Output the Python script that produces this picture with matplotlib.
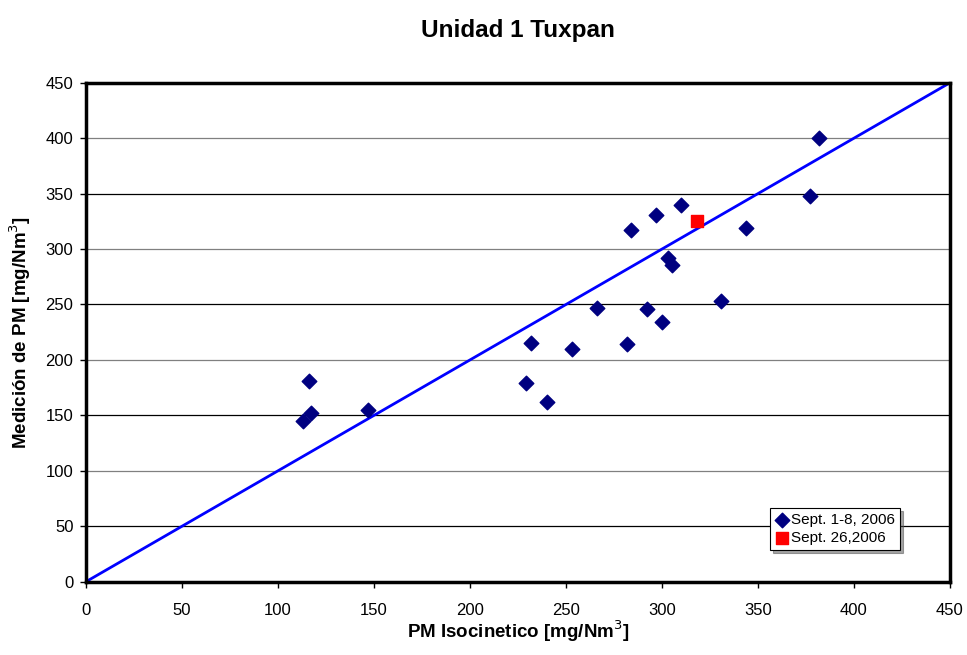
import matplotlib
matplotlib.use("Agg")
import matplotlib.pyplot as plt

plt.rcParams['font.family'] = ['Liberation Sans', 'DejaVu Sans']

# Sept. 1-8, 2006 measurements
iso_sept1 = [113, 116, 117, 147, 229, 232, 240, 253, 266, 282, 284, 292, 297,
             300, 303, 305, 310, 331, 344, 377, 382]
pm_sept1 = [145, 181, 152, 155, 179, 215, 162, 210, 247, 214, 317, 246, 331,
            234, 292, 286, 340, 253, 319, 348, 400]

# Sept. 26, 2006
iso_sept26 = [318]
pm_sept26 = [325]

# 1:1 reference line
ref_line = [0, 450]

fig = plt.figure(figsize=(9.67, 6.55), dpi=100)
ax = fig.add_axes([0.0889, 0.1119, 0.8935, 0.7618])

# gridlines (the original shows alternating dark / grey lines)
for v in range(50, 450, 50):
    c = '#808080' if v % 100 == 0 else 'black'
    ax.axhline(v, color=c, lw=0.9, zorder=0)

ax.plot(ref_line, ref_line, color='#0000ff', lw=2, zorder=2)
ax.scatter(iso_sept1, pm_sept1, marker='D', s=55, color='#000080',
           label='Sept. 1-8, 2006', zorder=3)
ax.scatter(iso_sept26, pm_sept26, marker='s', s=80, color='#ff0000',
           label='Sept. 26,2006', zorder=3)

ax.set_xlim(0, 450)
ax.set_ylim(0, 450)
ax.set_xticks(range(0, 451, 50))
ax.set_yticks(range(0, 451, 50))
ax.tick_params(labelsize=12, length=4, width=1, direction='out')
ax.tick_params(axis='x', pad=11)
ax.tick_params(axis='y', pad=5)
for s in ax.spines.values():
    s.set_linewidth(2.5)

ax.set_title('Unidad 1 Tuxpan', fontsize=17.5, fontweight='bold', pad=33)
ax.set_xlabel('PM Isocinetico [mg/Nm$^3$]', fontsize=13.5, fontweight='bold', labelpad=1)
ax.set_ylabel('Medición de PM [mg/Nm$^3$]', fontsize=13.5, fontweight='bold', labelpad=9)

leg = ax.legend(loc='lower right', bbox_to_anchor=(0.942, 0.064), fontsize=11,
                frameon=True, fancybox=False, shadow=True, handletextpad=0.1,
                handlelength=1.0, borderpad=0.3, labelspacing=0.3,
                borderaxespad=0)
leg.get_frame().set_edgecolor('black')
leg.get_frame().set_linewidth(0.8)

fig.savefig('out.png', dpi=100)
